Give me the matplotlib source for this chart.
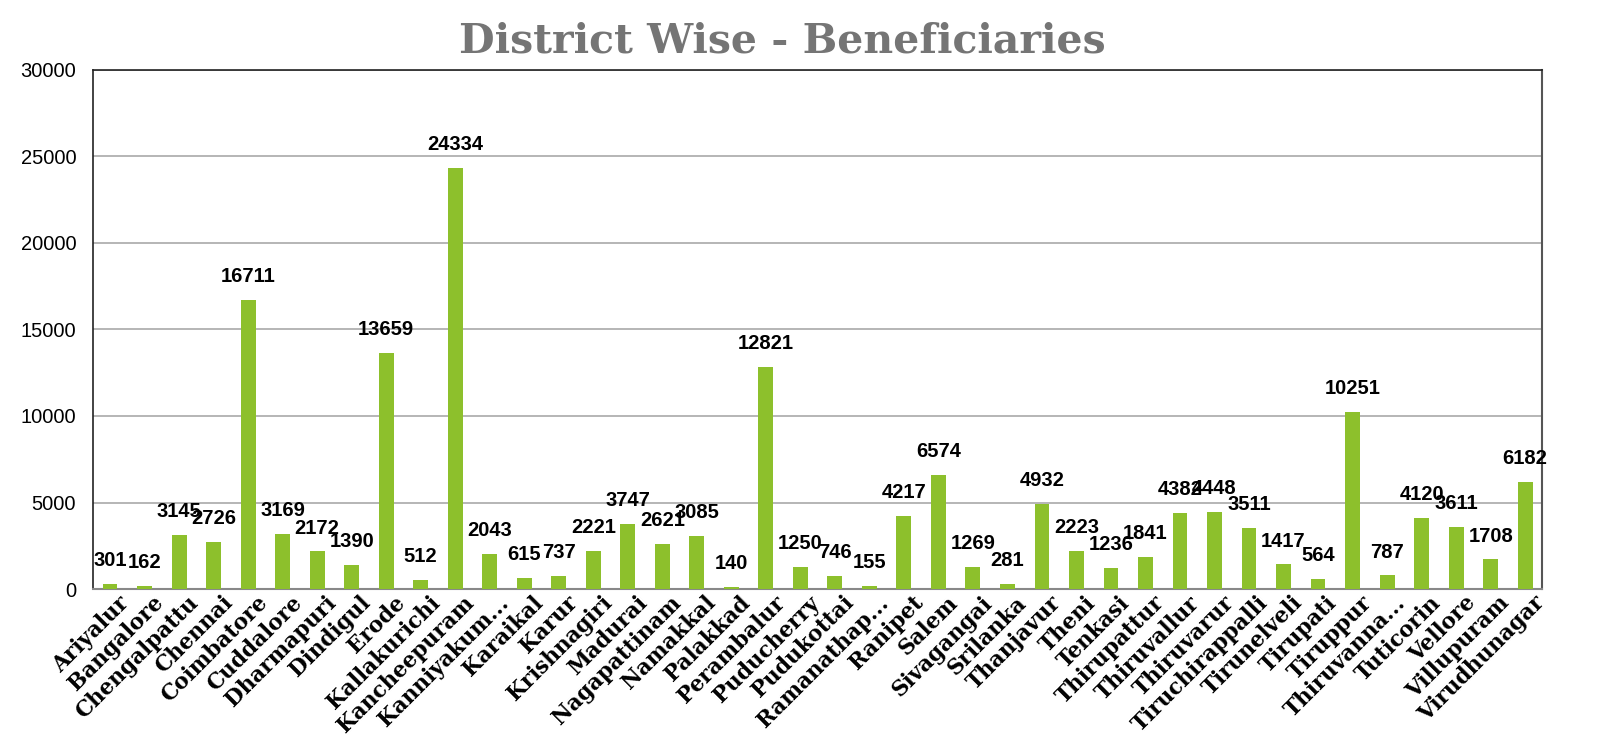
import matplotlib
matplotlib.use('Agg')
import matplotlib.pyplot as plt
import matplotlib.transforms as mtransforms
import numpy as np

# District names and beneficiary counts
districts = ['Ariyalur', 'Bangalore', 'Chengalpattu', 'Chennai', 'Coimbatore',
             'Cuddalore', 'Dharmapuri', 'Dindigul', 'Erode', 'Kallakurichi',
             'Kancheepuram', 'Kanniyakum...', 'Karaikal', 'Karur', 'Krishnagiri',
             'Madurai', 'Nagapattinam', 'Namakkal', 'Palakkad', 'Perambalur',
             'Puducherry', 'Pudukottai', 'Ramanathap...', 'Ranipet', 'Salem',
             'Sivagangai', 'Srilanka', 'Thanjavur', 'Theni', 'Tenkasi',
             'Thirupattur', 'Thiruvallur', 'Thiruvarur', 'Tiruchirappalli',
             'Tirunelveli', 'Tirupati', 'Tiruppur', 'Thiruvanna...', 'Tuticorin',
             'Vellore', 'Villupuram', 'Virudhunagar']
beneficiaries = [301, 162, 3145, 2726, 16711, 3169, 2172, 1390, 13659, 512,
                 24334, 2043, 615, 737, 2221, 3747, 2621, 3085, 140, 12821,
                 1250, 746, 155, 4217, 6574, 1269, 281, 4932, 2223, 1236,
                 1841, 4382, 4448, 3511, 1417, 564, 10251, 787, 4120,
                 3611, 1708, 6182]
y_ticks = [0, 5000, 10000, 15000, 20000, 25000, 30000]

fig = plt.figure(figsize=(16, 7.49), dpi=100)
ax = fig.add_axes([0.058, 0.2136, 0.906, 0.693])

x = np.arange(len(districts))
ax.bar(x, beneficiaries, width=0.43, color='#8dc02c', zorder=3)

# Value labels above the bars
for xi, v in zip(x, beneficiaries):
    ax.annotate(str(v), (xi, v), xytext=(0, 10), textcoords='offset points',
                ha='center', va='bottom', fontsize=14.5, fontweight='bold',
                family='Liberation Sans', color='black')

ax.set_xlim(-0.5, len(districts) - 0.5)
ax.set_ylim(0, 30000)
ax.set_yticks(y_ticks)
ax.set_yticklabels([str(t) for t in y_ticks], family='Liberation Sans', fontsize=14.5)
ax.tick_params(axis='y', length=0, pad=12)
ax.tick_params(axis='x', length=0, pad=2)
ax.yaxis.grid(True, color='#b0b0b0', linewidth=1.3, zorder=0)

ax.set_xticks(x)
ax.set_xticklabels(districts, rotation=45, ha='right', rotation_mode='anchor',
                   family='DejaVu Serif', fontweight='bold', fontsize=15.5)
# nudge the rotated labels a little to the right, like the original
shift = mtransforms.ScaledTranslation(8 / 100, 0, fig.dpi_scale_trans)
for lab in ax.get_xticklabels():
    lab.set_transform(lab.get_transform() + shift)

for side in ['left', 'top']:
    ax.spines[side].set_color('#222222')
    ax.spines[side].set_linewidth(1.2)
ax.spines['right'].set_color('#555555')
ax.spines['right'].set_linewidth(1.5)
ax.spines['bottom'].set_color('#888888')
ax.spines['bottom'].set_linewidth(1.5)

fig.text(0.489, 0.945, 'District Wise - Beneficiaries', ha='center', va='center',
         family='DejaVu Serif', fontweight='bold', fontsize=29.5, color='#757575')

fig.savefig('out.png', dpi=100)
